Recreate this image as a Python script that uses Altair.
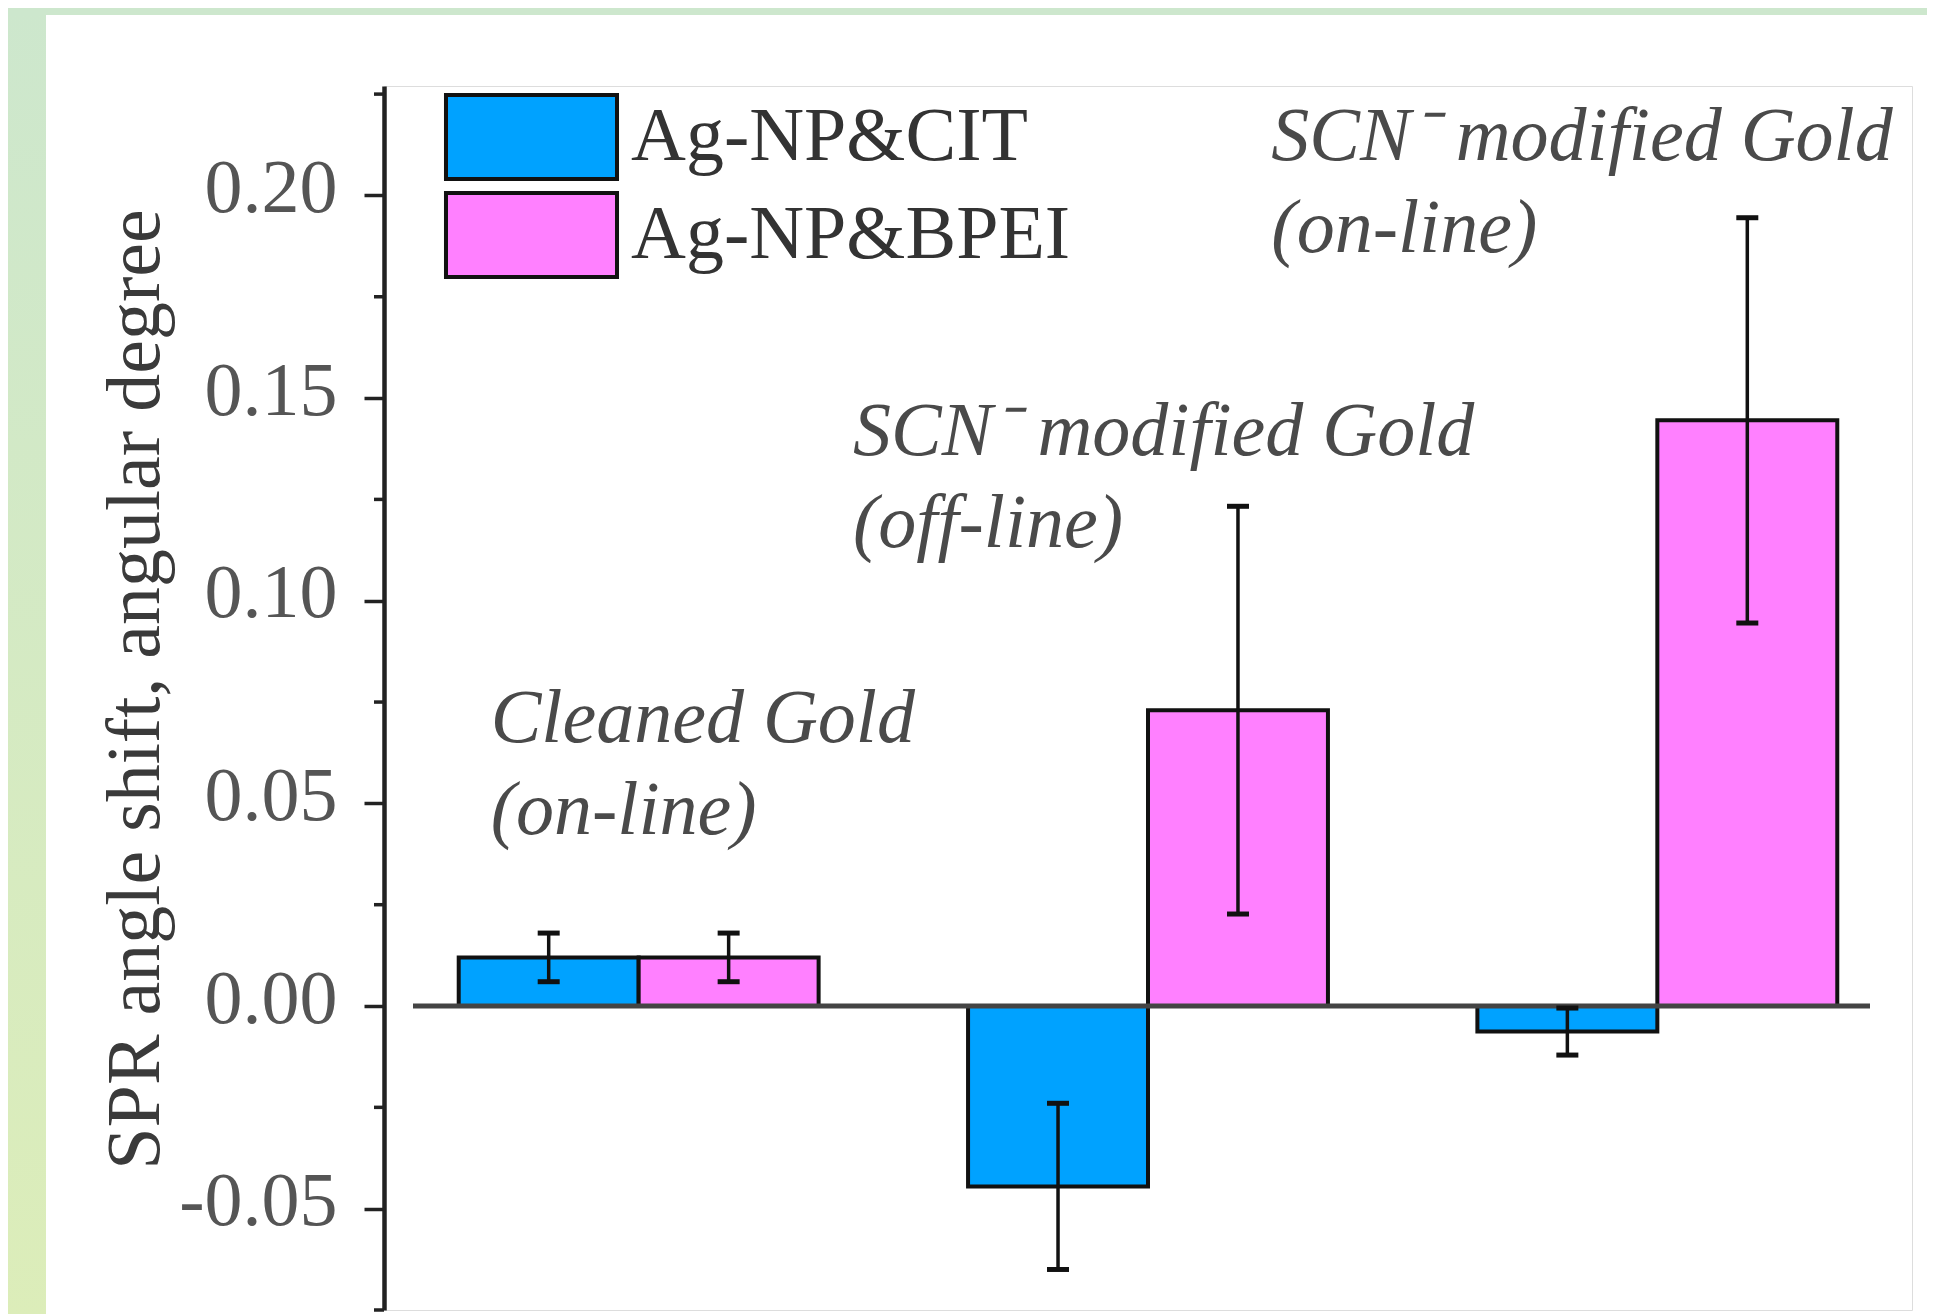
import altair as alt
import pandas as pd

# ---- data ----
groups = ["Cleaned Gold (on-line)", "SCN- modified Gold (off-line)", "SCN- modified Gold (on-line)"]
series = ["Ag-NP&CIT", "Ag-NP&BPEI"]
cit_values = [0.012, -0.0445, -0.0063]
cit_errors = [0.006, 0.0205, 0.0058]
bpei_values = [0.012, 0.073, 0.1445]
bpei_errors = [0.006, 0.0503, 0.050]
colors = ["#00a2ff", "#ff80ff"]

major_ticks = [-0.05, 0.0, 0.05, 0.10, 0.15, 0.20]
minor_ticks = [-0.075, -0.025, 0.025, 0.075, 0.125, 0.175, 0.225]

ann_lines = [["Cleaned Gold", "(on-line)"],
             ["SCN\u207b modified Gold", "(off-line)"],
             ["SCN\u207b modified Gold", "(on-line)"]]
ann_y = [0.0651, 0.1359, 0.2087]

y_title = "SPR angle shift, angular degree"

rows = []
for g, v, e in zip(groups, cit_values, cit_errors):
    rows.append({"group": g, "series": series[0], "value": v, "lo": v - e, "hi": v + e})
for g, v, e in zip(groups, bpei_values, bpei_errors):
    rows.append({"group": g, "series": series[1], "value": v, "lo": v - e, "hi": v + e})
df = pd.DataFrame(rows)

FONT = "Liberation Serif"
W, H = 1528, 1224

xenc = alt.X("group:N", sort=groups, axis=None,
             scale=alt.Scale(paddingInner=0.2934, paddingOuter=0.1467))
xoff = alt.XOffset("series:N", sort=series, scale=alt.Scale(paddingInner=0, paddingOuter=0))
yscale = alt.Scale(domain=[-0.075, 0.227], nice=False, zero=False)

# background strips (page decoration)
bg_df = pd.DataFrame({"k": [0]})
left_strip = alt.Chart(bg_df).mark_rect(
    color=alt.LinearGradient(gradient="linear",
                             stops=[alt.GradientStop(color="#cde7cd", offset=0),
                                    alt.GradientStop(color="#dcedb9", offset=1)],
                             x1=0, x2=0, y1=0, y2=1)
).encode(x=alt.value(-376), x2=alt.value(-338), y=alt.value(-78), y2=alt.value(H + 10))
top_strip = alt.Chart(bg_df).mark_rect(color="#cde7cd").encode(
    x=alt.value(-376), x2=alt.value(W + 20), y=alt.value(-78), y2=alt.value(-71))

bars = alt.Chart(df).mark_bar(stroke="#111111", strokeWidth=4, opacity=1).encode(
    x=xenc,
    xOffset=xoff,
    y=alt.Y("value:Q", scale=yscale,
            axis=alt.Axis(values=major_ticks, title=y_title,
                          labelExpr="datum.value < 0 ? '-' + format(-datum.value, '.2f') : format(datum.value, '.2f')",
                          grid=False, tickSize=20, tickWidth=3.5, tickColor="#222222",
                          domainColor="#222222", domainWidth=4.5,
                          labelFont=FONT, labelFontSize=76, labelColor="#555555",
                          labelPadding=27, labelBaseline="alphabetic", labelOffset=16,
                          titleFont=FONT, titleFontSize=76, titleFontWeight="normal",
                          titleColor="#3a3a3a", titleAngle=270, titleBaseline="alphabetic",
                          titleAnchor="middle", titleX=-226, titleY=603)),
    y2=alt.Y2(datum=0),
    color=alt.Color("series:N", sort=series,
                    scale=alt.Scale(domain=series, range=colors),
                    legend=alt.Legend(title=None, orient="none", legendX=103.5, legendY=7,
                                      symbolType="M-2.036,-1H2.036V1H-2.036Z",
                                      symbolSize=7056, symbolStrokeColor="#111111",
                                      symbolStrokeWidth=4, symbolOpacity=1,
                                      labelFont=FONT, labelFontSize=76, labelColor="#333333",
                                      labelOffset=55.5, rowPadding=-2, padding=0,
                                      labelLimit=800)),
)

zero_line = alt.Chart(bg_df).mark_rule(color="#444444", strokeWidth=5).encode(
    y=alt.Y(datum=0, scale=yscale), x=alt.value(29), x2=alt.value(1486))

err_rules = alt.Chart(df).mark_rule(color="#111111", strokeWidth=3.5).encode(
    x=xenc, xOffset=xoff, y=alt.Y("lo:Q", scale=yscale), y2="hi:Q")
cap_lo = alt.Chart(df).mark_tick(color="#111111", thickness=5, size=22, opacity=1).encode(
    x=xenc, xOffset=xoff, y=alt.Y("lo:Q", scale=yscale))
cap_hi = alt.Chart(df).mark_tick(color="#111111", thickness=5, size=22, opacity=1).encode(
    x=xenc, xOffset=xoff, y=alt.Y("hi:Q", scale=yscale))

minor = alt.Chart(pd.DataFrame({"t": minor_ticks})).mark_rule(
    color="#222222", strokeWidth=3.5).encode(
    y=alt.Y("t:Q", scale=yscale), x=alt.value(-10), x2=alt.value(0))

ann_df = pd.DataFrame({"group": groups, "y": ann_y, "lines": ann_lines})
ann_dx = [-148, -295, -386]
ann_layers = []
for i in range(3):
    ann_layers.append(
        alt.Chart(ann_df.iloc[[i]]).mark_text(
            align="left", baseline="alphabetic", font=FONT, fontSize=76,
            fontStyle="italic", color="#4a4a4a", lineHeight=92, dx=ann_dx[i]
        ).encode(x=xenc, y=alt.Y("y:Q", scale=yscale), text="lines")
    )

chart = alt.layer(left_strip, top_strip, bars, zero_line, err_rules, cap_lo, cap_hi,
                  minor, *ann_layers).properties(
    width=W, height=H,
    autosize=alt.AutoSizeParams(type="none"),
    padding={"left": 376, "top": 78, "right": 15, "bottom": 4},
).configure_view(stroke=None).configure(background="white")

chart.save("out.html", embed_options={"renderer": "svg", "actions": False})
